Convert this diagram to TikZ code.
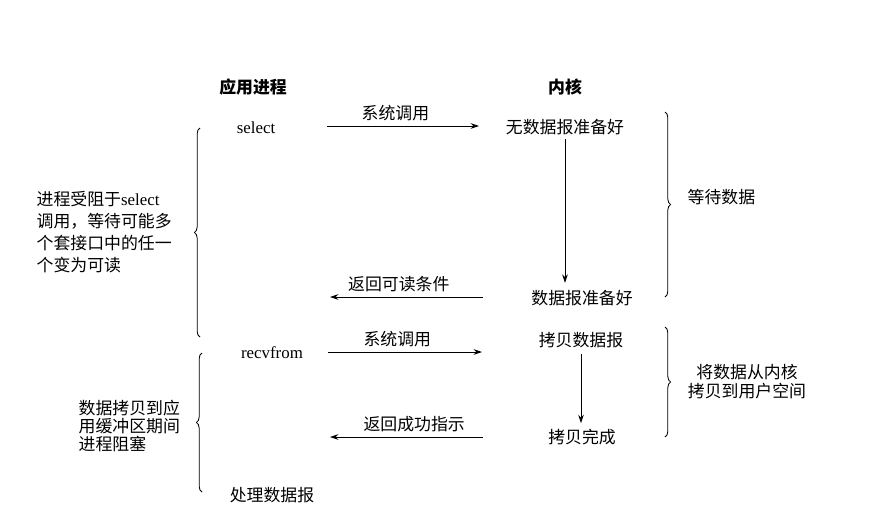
\documentclass[tikz,border=0pt]{standalone}
\usepackage{fontspec}
\setmainfont{Liberation Serif}
\newfontfamily\cjk{Noto Sans CJK SC}
\usetikzlibrary{arrows.meta, positioning, decorations.pathreplacing}

\begin{document}
\begin{tikzpicture}[x=0.025cm, y=-0.025cm,
      lbl/.style={font=\cjk\fontsize{12}{14}\selectfont, inner sep=1pt},
      ttl/.style={font=\cjk\bfseries\fontsize{12}{14}\selectfont, inner sep=1pt},
      fn/.style={font=\rmfamily\fontsize{12}{14}\selectfont, inner sep=1pt},
      call/.style={-{Stealth[length=6pt, width=4pt]}, line width=0.6pt},
      brc/.style={decorate, decoration={brace, amplitude=4pt}, line width=0.6pt}]
    \useasboundingbox (0,0) rectangle (877,513);
    % column titles
    \node[ttl] (app) at (253,87) {应用进程};
    \node[ttl] (ker) at (565,87) {内核};
    % application side
    \node[fn] (sel) at (256,128) {select};
    \node[fn] (rcv) at (272,353) {recvfrom};
    \node[lbl] (proc) at (272,495) {处理数据报};
    % kernel side
    \node[lbl] (nodg) at (565,127) {无数据报准备好};
    \node[lbl] (dgok) at (582,298) {数据报准备好};
    \node[lbl] (cpy) at (581,340) {拷贝数据报};
    \node[lbl] (cpyok) at (582,437) {拷贝完成};
    % arrow ends
    \coordinate (s1) at (327,126);
    \coordinate (k1) at (479,126);
    \coordinate (k2) at (483,297);
    \coordinate (s2) at (330,297);
    \coordinate (s3) at (328,352);
    \coordinate (k3) at (482,352);
    \coordinate (k4) at (483,437);
    \coordinate (s4) at (330,437);
    \draw[call] (s1) -- node[lbl, above=2pt, pos=0.45] {系统调用} (k1);
    \draw[call] (k2) -- node[lbl, above=2pt, pos=0.55] {返回可读条件} (s2);
    \draw[call] (s3) -- node[lbl, above=2pt, pos=0.45] {系统调用} (k3);
    \draw[call] (k4) -- node[lbl, above=2pt, pos=0.45] {返回成功指示} (s4);
    \draw[call, shorten <=2pt, shorten >=4pt] (nodg.south) -- (nodg.south |- dgok.north);
    \draw[call, shorten <=3pt, shorten >=3pt] (cpy.south) -- (cpy.south |- cpyok.north);
    % braces
    \draw[brc] (200,337) -- (200,128);
    \draw[brc] (202,492) -- (202,353);
    \draw[brc] (665,112) -- (665,297);
    \draw[brc] (665,327) -- (665,437);
    \node[lbl, anchor=west, align=left, font=\cjk\fontsize{12}{15.6}\selectfont] (blk1) at (35,232)
      {进程受阻于{\rmfamily select}\\调用，等待可能多\\个套接口中的任一\\个变为可读};
    \node[lbl, anchor=west, align=left, font=\cjk\fontsize{12}{12.6}\selectfont] (blk2) at (77,426)
      {数据拷贝到应\\用缓冲区期间\\进程阻塞};
    \node[lbl, anchor=west] (wait) at (686,197) {等待数据};
    \node[lbl, align=center, font=\cjk\fontsize{12}{13.5}\selectfont] (copy) at (747,382)
      {将数据从内核\\拷贝到用户空间};
  \end{tikzpicture}
\end{document}
